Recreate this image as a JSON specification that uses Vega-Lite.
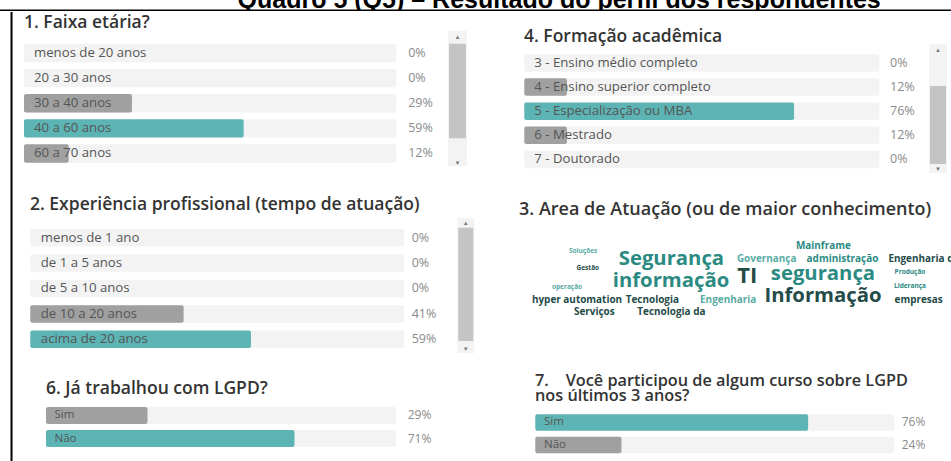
{
  "$schema": "https://vega.github.io/schema/vega-lite/v6.json",
  "padding": 0,
  "autosize": {"type": "pad"},
  "background": "white",
  "spacing": 0,
  "vconcat": [
    {
      "width": 951,
      "height": 11,
      "data": {"values": [{"titulo": "Quadro 5 (Q5) – Resultado do perfil dos respondentes"}]},
      "layer": [
        {
          "mark": {"type": "text", "clip": true, "font": "Liberation Sans", "fontWeight": "bold", "fontSize": 25, "baseline": "alphabetic", "align": "center", "color": "#000"},
          "encoding": {
            "x": {"datum": 0.588, "type": "quantitative", "scale": {"domain": [0, 1], "nice": false, "zero": false}, "axis": null},
            "y": {"datum": 0.2727, "type": "quantitative", "scale": {"domain": [0, 1], "nice": false, "zero": false}, "axis": null},
            "text": {"field": "titulo"}
          }
        },
        {
          "mark": {"type": "rule", "color": "#000", "strokeWidth": 2, "clip": true},
          "encoding": {"y": {"datum": 0.05, "type": "quantitative", "axis": null}}
        }
      ]
    },
    {
      "hconcat": [
        {
          "width": 12,
          "height": 450,
          "data": {"values": [{}]},
          "mark": {"type": "rule", "color": "#000", "strokeWidth": 2},
          "encoding": {"x": {"datum": 0.96, "type": "quantitative", "scale": {"domain": [0, 1], "nice": false, "zero": false}, "axis": null}}
        },
        {
          "vconcat": [
            {
              "width": 484,
              "height": 168,
              "title": {"text": "1. Faixa etária?", "offset": -19.5, "dx": 0, "fontSize": 17.5},
              "data": {"values": [
                {"faixa": "menos de 20 anos", "pct": 0},
                {"faixa": "20 a 30 anos", "pct": 0},
                {"faixa": "30 a 40 anos", "pct": 0.29},
                {"faixa": "40 a 60 anos", "pct": 0.59},
                {"faixa": "60 a 70 anos", "pct": 0.12}
              ]},
              "transform": [{"joinaggregate": [{"op": "max", "field": "pct", "as": "maxpct"}]}],
              "layer": [
                {
                  "mark": {"type": "bar", "color": "#f3f3f3", "cornerRadius": 2},
                  "encoding": {
                    "y": {"field": "faixa", "type": "nominal", "axis": null, "scale": {"domain": ["menos de 20 anos", "20 a 30 anos", "30 a 40 anos", "40 a 60 anos", "60 a 70 anos"], "paddingInner": 0.27, "paddingOuter": 0.98, "align": 0.647}},
                    "x": {"datum": 0, "type": "quantitative", "axis": null, "scale": {"domain": [0, 1.3], "nice": false, "zero": false}},
                    "x2": {"datum": 1}
                  }
                },
                {
                  "mark": {"type": "bar", "cornerRadius": 2},
                  "encoding": {
                    "y": {"field": "faixa", "type": "nominal", "axis": null},
                    "x": {"field": "pct", "type": "quantitative", "axis": null},
                    "x2": {"datum": 0},
                    "color": {"condition": {"test": "datum.pct === datum.maxpct", "value": "#5db4b4"}, "value": "#a0a0a0"}
                  }
                },
                {
                  "mark": {"type": "text", "align": "left", "baseline": "middle", "dx": 10, "fontSize": 13.2, "color": "#555555"},
                  "encoding": {
                    "y": {"field": "faixa", "type": "nominal", "axis": null},
                    "x": {"datum": 0, "type": "quantitative", "axis": null},
                    "text": {"field": "faixa"}
                  }
                },
                {
                  "mark": {"type": "text", "align": "left", "baseline": "middle", "fontSize": 12.5, "color": "#8a8a8a"},
                  "encoding": {
                    "y": {"field": "faixa", "type": "nominal", "axis": null},
                    "x": {"datum": 1.032, "type": "quantitative", "axis": null},
                    "text": {"field": "pct", "format": ".0%"}
                  }
                },
                {
                  "data": {"values": [{}]},
                  "mark": {"type": "rect", "color": "#f3f3f3"},
                  "encoding": {
                    "x": {"datum": 1.139, "type": "quantitative", "axis": null},
                    "x2": {"datum": 1.19},
                    "y": {"datum": "menos de 20 anos", "type": "nominal", "bandPosition": -0.7, "axis": null},
                    "y2": {"datum": "60 a 70 anos", "bandPosition": 1.2}
                  }
                },
                {
                  "data": {"values": [{}]},
                  "mark": {"type": "rect", "color": "#c4c4c4"},
                  "encoding": {
                    "x": {"datum": 1.1416, "type": "quantitative", "axis": null},
                    "x2": {"datum": 1.187},
                    "y": {"datum": "menos de 20 anos", "type": "nominal", "bandPosition": 0, "axis": null},
                    "y2": {"datum": "40 a 60 anos", "bandPosition": 1.04}
                  }
                },
                {
                  "data": {"values": [{"seta": "▲", "cat": "menos de 20 anos", "bp": "topo"}]},
                  "mark": {"type": "text", "fontSize": 6, "color": "#777777", "baseline": "middle", "align": "center"},
                  "encoding": {
                    "x": {"datum": 1.1645, "type": "quantitative", "axis": null},
                    "y": {"datum": "menos de 20 anos", "type": "nominal", "bandPosition": -0.37, "axis": null},
                    "text": {"field": "seta"}
                  }
                },
                {
                  "data": {"values": [{"seta": "▼"}]},
                  "mark": {"type": "text", "fontSize": 6, "color": "#777777", "baseline": "middle", "align": "center"},
                  "encoding": {
                    "x": {"datum": 1.1645, "type": "quantitative", "axis": null},
                    "y": {"datum": "60 a 70 anos", "type": "nominal", "bandPosition": 1.0, "axis": null},
                    "text": {"field": "seta"}
                  }
                }
              ]
            },
            {
              "width": 484,
              "height": 161,
              "title": {"text": "2. Experiência profissional (tempo de atuação)", "offset": -3.5, "dx": 6, "fontSize": 17.5},
              "data": {"values": [
                {"tempo": "menos de 1 ano", "pct": 0},
                {"tempo": "de 1 a 5 anos", "pct": 0},
                {"tempo": "de 5 a 10 anos", "pct": 0},
                {"tempo": "de 10 a 20 anos", "pct": 0.41},
                {"tempo": "acima de 20 anos", "pct": 0.59}
              ]},
              "transform": [{"joinaggregate": [{"op": "max", "field": "pct", "as": "maxpct"}]}],
              "layer": [
                {
                  "mark": {"type": "bar", "color": "#f3f3f3", "cornerRadius": 2},
                  "encoding": {
                    "y": {"field": "tempo", "type": "nominal", "axis": null, "scale": {"domain": ["menos de 1 ano", "de 1 a 5 anos", "de 5 a 10 anos", "de 10 a 20 anos", "acima de 20 anos"], "paddingInner": 0.311, "paddingOuter": 0.825, "align": 0.452}},
                    "x": {"datum": 0, "type": "quantitative", "axis": null, "scale": {"domain": [-0.01684, 1.2773], "nice": false, "zero": false}},
                    "x2": {"datum": 1}
                  }
                },
                {
                  "mark": {"type": "bar", "cornerRadius": 2},
                  "encoding": {
                    "y": {"field": "tempo", "type": "nominal", "axis": null},
                    "x": {"field": "pct", "type": "quantitative", "axis": null},
                    "x2": {"datum": 0},
                    "color": {"condition": {"test": "datum.pct === datum.maxpct", "value": "#5db4b4"}, "value": "#a0a0a0"}
                  }
                },
                {
                  "mark": {"type": "text", "align": "left", "baseline": "middle", "dx": 10.5, "fontSize": 13.2, "color": "#555555"},
                  "encoding": {
                    "y": {"field": "tempo", "type": "nominal", "axis": null},
                    "x": {"datum": 0, "type": "quantitative", "axis": null},
                    "text": {"field": "tempo"}
                  }
                },
                {
                  "mark": {"type": "text", "align": "left", "baseline": "middle", "fontSize": 12.5, "color": "#8a8a8a"},
                  "encoding": {
                    "y": {"field": "tempo", "type": "nominal", "axis": null},
                    "x": {"datum": 1.0198, "type": "quantitative", "axis": null},
                    "text": {"field": "pct", "format": ".0%"}
                  }
                },
                {
                  "data": {"values": [{}]},
                  "mark": {"type": "rect", "color": "#f3f3f3"},
                  "encoding": {
                    "x": {"datum": 1.1417, "type": "quantitative", "axis": null},
                    "x2": {"datum": 1.1872},
                    "y": {"datum": "menos de 1 ano", "type": "nominal", "bandPosition": -0.626, "axis": null},
                    "y2": {"datum": "acima de 20 anos", "bandPosition": 1.283}
                  }
                },
                {
                  "data": {"values": [{}]},
                  "mark": {"type": "rect", "color": "#c4c4c4"},
                  "encoding": {
                    "x": {"datum": 1.1444, "type": "quantitative", "axis": null},
                    "x2": {"datum": 1.1845},
                    "y": {"datum": "menos de 1 ano", "type": "nominal", "bandPosition": -0.071, "axis": null},
                    "y2": {"datum": "acima de 20 anos", "bandPosition": 0.597}
                  }
                },
                {
                  "data": {"values": [{"seta": "▲"}]},
                  "mark": {"type": "text", "fontSize": 6, "color": "#777777", "baseline": "middle", "align": "center"},
                  "encoding": {
                    "x": {"datum": 1.1645, "type": "quantitative", "axis": null},
                    "y": {"datum": "menos de 1 ano", "type": "nominal", "bandPosition": -0.357, "axis": null},
                    "text": {"field": "seta"}
                  }
                },
                {
                  "data": {"values": [{"seta": "▼"}]},
                  "mark": {"type": "text", "fontSize": 6, "color": "#777777", "baseline": "middle", "align": "center"},
                  "encoding": {
                    "x": {"datum": 1.1645, "type": "quantitative", "axis": null},
                    "y": {"datum": "acima de 20 anos", "type": "nominal", "bandPosition": 1.071, "axis": null},
                    "text": {"field": "seta"}
                  }
                }
              ]
            },
            {
              "width": 484,
              "height": 61,
              "title": {"text": "6. Já trabalhou com LGPD?", "offset": 3.5, "dx": 22, "fontSize": 17.5},
              "data": {"values": [
                {"resposta": "Sim", "pct": 0.29},
                {"resposta": "Não", "pct": 0.71}
              ]},
              "transform": [{"joinaggregate": [{"op": "max", "field": "pct", "as": "maxpct"}]}],
              "layer": [
                {
                  "mark": {"type": "bar", "color": "#f3f3f3", "cornerRadius": 2},
                  "encoding": {
                    "y": {"field": "resposta", "type": "nominal", "axis": null, "scale": {"domain": ["Sim", "Não"], "paddingInner": 0.261, "paddingOuter": 0.4565, "align": 0.2857}},
                    "x": {"datum": 0, "type": "quantitative", "axis": null, "scale": {"domain": [-0.06286, 1.32], "nice": false, "zero": false}},
                    "x2": {"datum": 1}
                  }
                },
                {
                  "mark": {"type": "bar", "cornerRadius": 2},
                  "encoding": {
                    "y": {"field": "resposta", "type": "nominal", "axis": null},
                    "x": {"field": "pct", "type": "quantitative", "axis": null},
                    "x2": {"datum": 0},
                    "color": {"condition": {"test": "datum.pct === datum.maxpct", "value": "#5db4b4"}, "value": "#a0a0a0"}
                  }
                },
                {
                  "mark": {"type": "text", "align": "left", "baseline": "middle", "dx": 8.5, "fontSize": 11.5, "color": "#555555"},
                  "encoding": {
                    "y": {"field": "resposta", "type": "nominal", "axis": null},
                    "x": {"datum": 0, "type": "quantitative", "axis": null},
                    "text": {"field": "resposta"}
                  }
                },
                {
                  "mark": {"type": "text", "align": "left", "baseline": "middle", "fontSize": 12, "color": "#8a8a8a"},
                  "encoding": {
                    "y": {"field": "resposta", "type": "nominal", "axis": null},
                    "x": {"datum": 1.0334, "type": "quantitative", "axis": null},
                    "text": {"field": "pct", "format": ".0%"}
                  }
                }
              ]
            }
          ],
          "spacing": 30,
          "bounds": "flush"
        },
        {
          "vconcat": [
            {
              "width": 433,
              "height": 162,
              "title": {"text": "4. Formação acadêmica", "offset": -33.5, "dx": 5, "fontSize": 17.5},
              "data": {"values": [
                {"formacao": "3 - Ensino médio completo", "pct": 0},
                {"formacao": "4 - Ensino superior completo", "pct": 0.12},
                {"formacao": "5 - Especialização ou MBA", "pct": 0.76},
                {"formacao": "6 - Mestrado", "pct": 0.12},
                {"formacao": "7 - Doutorado", "pct": 0}
              ]},
              "transform": [{"joinaggregate": [{"op": "max", "field": "pct", "as": "maxpct"}]}],
              "layer": [
                {
                  "mark": {"type": "bar", "color": "#f3f3f3", "cornerRadius": 2},
                  "encoding": {
                    "y": {"field": "formacao", "type": "nominal", "axis": null, "scale": {"domain": ["3 - Ensino médio completo", "4 - Ensino superior completo", "5 - Especialização ou MBA", "6 - Mestrado", "7 - Doutorado"], "paddingInner": 0.274, "paddingOuter": 0.998, "align": 0.878}},
                    "x": {"datum": 0, "type": "quantitative", "axis": null, "scale": {"domain": [-0.01493, 1.2048], "nice": false, "zero": false}},
                    "x2": {"datum": 1}
                  }
                },
                {
                  "mark": {"type": "bar", "cornerRadius": 2},
                  "encoding": {
                    "y": {"field": "formacao", "type": "nominal", "axis": null},
                    "x": {"field": "pct", "type": "quantitative", "axis": null},
                    "x2": {"datum": 0},
                    "color": {"condition": {"test": "datum.pct === datum.maxpct", "value": "#5db4b4"}, "value": "#a0a0a0"}
                  }
                },
                {
                  "mark": {"type": "text", "align": "left", "baseline": "middle", "dx": 10, "fontSize": 13.2, "color": "#555555"},
                  "encoding": {
                    "y": {"field": "formacao", "type": "nominal", "axis": null},
                    "x": {"datum": 0, "type": "quantitative", "axis": null},
                    "text": {"field": "formacao"}
                  }
                },
                {
                  "mark": {"type": "text", "align": "left", "baseline": "middle", "fontSize": 12.5, "color": "#8a8a8a"},
                  "encoding": {
                    "y": {"field": "formacao", "type": "nominal", "axis": null},
                    "x": {"datum": 1.0301, "type": "quantitative", "axis": null},
                    "text": {"field": "pct", "format": ".0%"}
                  }
                },
                {
                  "data": {"values": [{}]},
                  "mark": {"type": "rect", "color": "#f3f3f3"},
                  "encoding": {
                    "x": {"datum": 1.14, "type": "quantitative", "axis": null},
                    "x2": {"datum": 1.1907},
                    "y": {"datum": "3 - Ensino médio completo", "type": "nominal", "bandPosition": -0.569, "axis": null},
                    "y2": {"datum": "7 - Doutorado", "bandPosition": 1.277}
                  }
                },
                {
                  "data": {"values": [{}]},
                  "mark": {"type": "rect", "color": "#c4c4c4"},
                  "encoding": {
                    "x": {"datum": 1.1428, "type": "quantitative", "axis": null},
                    "x2": {"datum": 1.1879},
                    "y": {"datum": "4 - Ensino superior completo", "type": "nominal", "bandPosition": 0.437, "axis": null},
                    "y2": {"datum": "7 - Doutorado", "bandPosition": 0.763}
                  }
                },
                {
                  "data": {"values": [{"seta": "▲"}]},
                  "mark": {"type": "text", "fontSize": 6, "color": "#777777", "baseline": "middle", "align": "center"},
                  "encoding": {
                    "x": {"datum": 1.1654, "type": "quantitative", "axis": null},
                    "y": {"datum": "3 - Ensino médio completo", "type": "nominal", "bandPosition": -0.243, "axis": null},
                    "text": {"field": "seta"}
                  }
                },
                {
                  "data": {"values": [{"seta": "▼"}]},
                  "mark": {"type": "text", "fontSize": 6, "color": "#777777", "baseline": "middle", "align": "center"},
                  "encoding": {
                    "x": {"datum": 1.1654, "type": "quantitative", "axis": null},
                    "y": {"datum": "7 - Doutorado", "type": "nominal", "bandPosition": 1.049, "axis": null},
                    "text": {"field": "seta"}
                  }
                }
              ]
            },
            {
              "width": 433,
              "height": 233,
              "title": {"text": "3. Area de Atuação (ou de maior conhecimento)", "offset": -44.5, "dx": 0, "fontSize": 18},
              "data": {"values": [
                {"palavra": "Mainframe", "x": 70.3, "y": 13.3, "peso": 3, "grupo": "medio"},
                {"palavra": "Soluções", "x": 14.8, "y": 16.1, "peso": 1, "grupo": "claro"},
                {"palavra": "Segurança", "x": 35.2, "y": 20.4, "peso": 9, "grupo": "medio"},
                {"palavra": "Governança", "x": 57.2, "y": 20.3, "peso": 3, "grupo": "claro"},
                {"palavra": "administração", "x": 74.7, "y": 20.3, "peso": 3, "grupo": "medio"},
                {"palavra": "Engenharia de", "x": 93.5, "y": 20.3, "peso": 3, "grupo": "escuro"},
                {"palavra": "Gestão", "x": 15.9, "y": 25.3, "peso": 1, "grupo": "escuro"},
                {"palavra": "informação", "x": 35.1, "y": 32.3, "peso": 9, "grupo": "medio"},
                {"palavra": "TI", "x": 52.7, "y": 29.6, "peso": 10, "grupo": "escuro"},
                {"palavra": "segurança", "x": 70.2, "y": 28.7, "peso": 9, "grupo": "medio"},
                {"palavra": "Produção", "x": 90.3, "y": 27.3, "peso": 1, "grupo": "medio"},
                {"palavra": "operação", "x": 11.1, "y": 35.5, "peso": 1, "grupo": "claro"},
                {"palavra": "Informação", "x": 70.2, "y": 40.3, "peso": 9, "grupo": "escuro"},
                {"palavra": "Liderança", "x": 90.3, "y": 35.1, "peso": 1, "grupo": "medio"},
                {"palavra": "hyper automation", "x": 13.4, "y": 42.6, "peso": 3, "grupo": "escuro"},
                {"palavra": "Tecnologia", "x": 30.8, "y": 42.6, "peso": 3, "grupo": "escuro"},
                {"palavra": "Engenharia", "x": 48.3, "y": 42.6, "peso": 3, "grupo": "claro"},
                {"palavra": "empresas", "x": 92.3, "y": 42.6, "peso": 3, "grupo": "escuro"},
                {"palavra": "Serviços", "x": 17.4, "y": 48.8, "peso": 3, "grupo": "escuro"},
                {"palavra": "Tecnologia da", "x": 35.2, "y": 48.8, "peso": 3, "grupo": "escuro"}
              ]},
              "mark": {"type": "text", "clip": true, "fontWeight": 700, "align": "center", "baseline": "middle"},
              "encoding": {
                "x": {"field": "x", "type": "quantitative", "axis": null, "scale": {"domain": [0, 100], "nice": false, "zero": false}},
                "y": {"field": "y", "type": "quantitative", "axis": null, "scale": {"domain": [-25.27, 100], "nice": false, "zero": false, "reverse": true}},
                "text": {"field": "palavra"},
                "size": {"field": "peso", "type": "quantitative", "legend": null, "scale": {"domain": [1, 10], "range": [6.5, 22], "zero": false}},
                "color": {"field": "grupo", "type": "nominal", "legend": null, "scale": {"domain": ["escuro", "medio", "claro"], "range": ["#244b48", "#2b8a82", "#58aca4"]}}
              }
            },
            {
              "width": 433,
              "height": 55,
              "title": {"text": ["7.\u00a0\u00a0\u00a0\u00a0Você participou de algum curso sobre LGPD", "nos últimos 3 anos?"], "offset": 2.7, "dx": 16, "lineHeight": 15.5, "fontSize": 16.3},
              "data": {"values": [
                {"resposta": "Sim", "pct": 0.76},
                {"resposta": "Não", "pct": 0.24}
              ]},
              "transform": [{"joinaggregate": [{"op": "max", "field": "pct", "as": "maxpct"}]}],
              "layer": [
                {
                  "mark": {"type": "bar", "color": "#f3f3f3", "cornerRadius": 2},
                  "encoding": {
                    "y": {"field": "resposta", "type": "nominal", "axis": null, "scale": {"domain": ["Sim", "Não"], "paddingInner": 0.267, "paddingOuter": 0.3556, "align": 0.453}},
                    "x": {"datum": 0, "type": "quantitative", "axis": null, "scale": {"domain": [-0.0454, 1.1607], "nice": false, "zero": false}},
                    "x2": {"datum": 1}
                  }
                },
                {
                  "mark": {"type": "bar", "cornerRadius": 2},
                  "encoding": {
                    "y": {"field": "resposta", "type": "nominal", "axis": null},
                    "x": {"field": "pct", "type": "quantitative", "axis": null},
                    "x2": {"datum": 0},
                    "color": {"condition": {"test": "datum.pct === datum.maxpct", "value": "#5db4b4"}, "value": "#a0a0a0"}
                  }
                },
                {
                  "mark": {"type": "text", "align": "left", "baseline": "middle", "dx": 8.7, "fontSize": 11.5, "color": "#555555"},
                  "encoding": {
                    "y": {"field": "resposta", "type": "nominal", "axis": null},
                    "x": {"datum": 0, "type": "quantitative", "axis": null},
                    "text": {"field": "resposta"}
                  }
                },
                {
                  "mark": {"type": "text", "align": "left", "baseline": "middle", "fontSize": 12, "color": "#8a8a8a"},
                  "encoding": {
                    "y": {"field": "resposta", "type": "nominal", "axis": null},
                    "x": {"datum": 1.0206, "type": "quantitative", "axis": null},
                    "text": {"field": "pct", "format": ".0%"}
                  }
                }
              ]
            }
          ],
          "spacing": 0,
          "bounds": "flush"
        }
      ],
      "spacing": 11
    }
  ],
  "config": {
    "view": {"stroke": null},
    "font": "Open Sans",
    "title": {"font": "Open Sans", "fontSize": 16, "fontWeight": 600, "color": "#333333", "anchor": "start", "frame": "group", "baseline": "alphabetic"}
  }
}
